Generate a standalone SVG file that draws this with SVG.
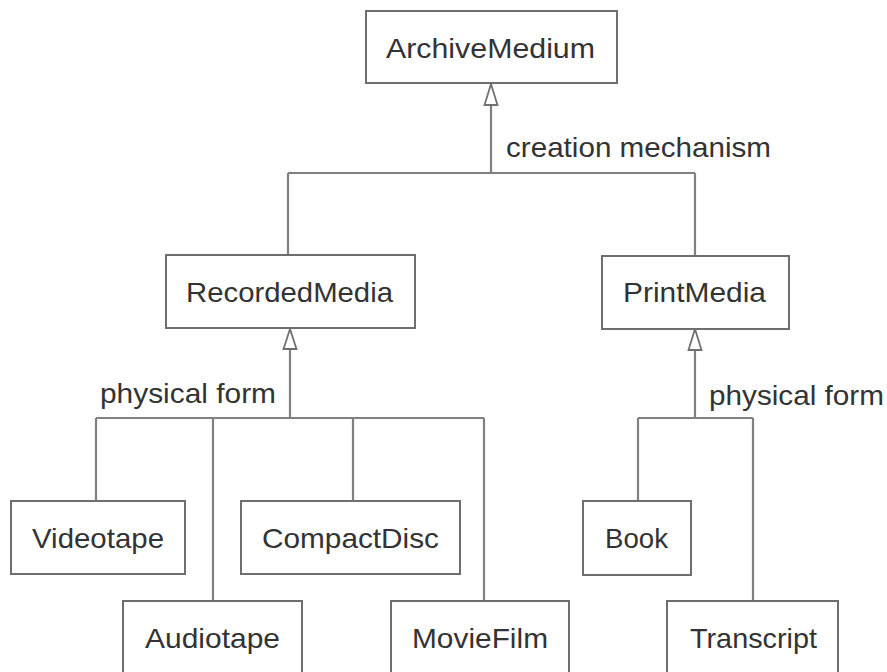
<svg xmlns="http://www.w3.org/2000/svg" width="887" height="672" viewBox="0 0 887 672">
<style>
.box{fill:#fff;stroke:#6e6e6e;stroke-width:2}
.lbl{font-family:"Liberation Sans",Arial,sans-serif;font-size:28px;fill:#333}
.ln{fill:none;stroke:#808080;stroke-width:2.2}
.tri{fill:#fff;stroke:#707070;stroke-width:1.8}
</style>
<rect width="887" height="672" fill="#fff"/>
<g id="connectors">
<path class="ln" d="M491,105 V173 M288,173 H695 M288,173 V255 M695,173 V256"/>
<path class="tri" d="M491,84 L484.5,105 H497.5 Z"/>
<path class="ln" d="M290,349 V418 M96,418 H484 M96,418 V501 M213,418 V601 M353,418 V501 M484,418 V601"/>
<path class="tri" d="M290,329 L283.5,349 H296.5 Z"/>
<path class="ln" d="M695,350 V418 M638,418 H753 M638,418 V501 M753,418 V601"/>
<path class="tri" d="M695,329 L688.5,350 H701.5 Z"/>
<text class="lbl" x="506" y="157" textLength="265" lengthAdjust="spacingAndGlyphs">creation mechanism</text>
<text class="lbl" x="100" y="403" textLength="176" lengthAdjust="spacingAndGlyphs">physical form</text>
<text class="lbl" x="709" y="405" textLength="175" lengthAdjust="spacingAndGlyphs">physical form</text>
</g>
<g id="ArchiveMedium">
<rect class="box" x="366" y="11" width="251" height="72"/>
<text class="lbl" x="386" y="58" textLength="209" lengthAdjust="spacingAndGlyphs">ArchiveMedium</text>
</g>
<g id="RecordedMedia">
<rect class="box" x="166" y="255" width="249" height="73"/>
<text class="lbl" x="186" y="302" textLength="207" lengthAdjust="spacingAndGlyphs">RecordedMedia</text>
</g>
<g id="PrintMedia">
<rect class="box" x="602" y="256" width="187" height="73"/>
<text class="lbl" x="623" y="302" textLength="143" lengthAdjust="spacingAndGlyphs">PrintMedia</text>
</g>
<g id="Videotape">
<rect class="box" x="11" y="501" width="174" height="73"/>
<text class="lbl" x="32" y="548" textLength="132" lengthAdjust="spacingAndGlyphs">Videotape</text>
</g>
<g id="CompactDisc">
<rect class="box" x="241" y="501" width="219" height="73"/>
<text class="lbl" x="262" y="548" textLength="177" lengthAdjust="spacingAndGlyphs">CompactDisc</text>
</g>
<g id="Book">
<rect class="box" x="583" y="501" width="108" height="74"/>
<text class="lbl" x="605" y="548" textLength="63" lengthAdjust="spacingAndGlyphs">Book</text>
</g>
<g id="Audiotape">
<rect class="box" x="123" y="601" width="179" height="90"/>
<text class="lbl" x="145" y="648" textLength="135" lengthAdjust="spacingAndGlyphs">Audiotape</text>
</g>
<g id="MovieFilm">
<rect class="box" x="391" y="601" width="178" height="90"/>
<text class="lbl" x="412" y="648" textLength="136" lengthAdjust="spacingAndGlyphs">MovieFilm</text>
</g>
<g id="Transcript">
<rect class="box" x="667" y="601" width="171" height="90"/>
<text class="lbl" x="690" y="648" textLength="127" lengthAdjust="spacingAndGlyphs">Transcript</text>
</g>
</svg>
